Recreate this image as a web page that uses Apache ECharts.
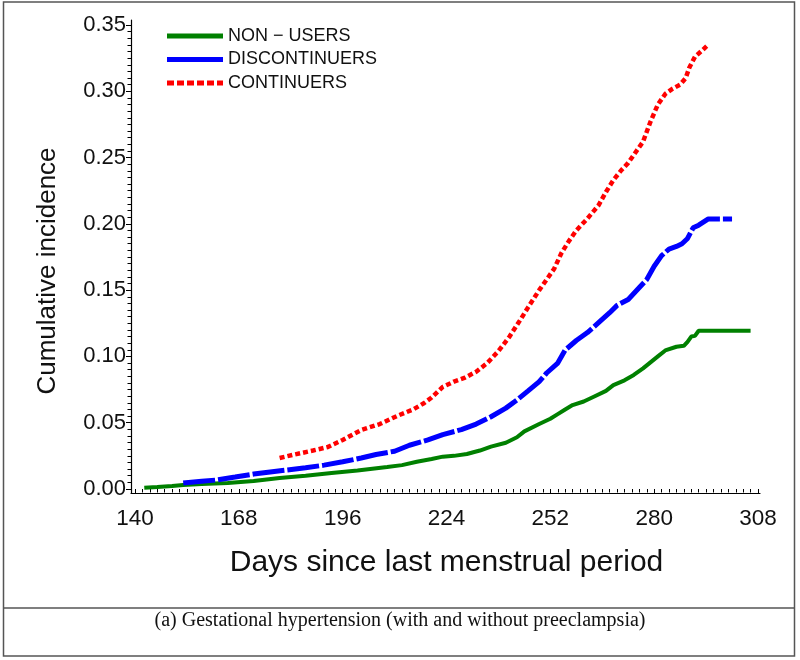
<!DOCTYPE html>
<html><head><meta charset="utf-8">
<script src="https://cdn.jsdelivr.net/npm/echarts@6/dist/echarts.min.js"></script>
<style>html,body{margin:0;padding:0;background:#fff}#c{width:800px;height:660px}</style>
</head><body><div id="c"></div><script>
const seriesNames = ['NON \u2212 USERS', 'DISCONTINUERS', 'CONTINUERS'];
const xTicks = [140, 168, 196, 224, 252, 280, 308];
const yTicks = [0.00, 0.05, 0.10, 0.15, 0.20, 0.25, 0.30, 0.35];
const xTitle = 'Days since last menstrual period';
const yTitle = 'Cumulative incidence';
const caption = '(a) Gestational hypertension (with and without preeclampsia)';

const daysNonUsers = [142.5,146,150,153,158,165,172,179,186,193,200,208,212,216,220,223,226,229.5,233,236,240,243,245,249,252,254,256,258,261,264,267,269,272,274.5,277,279,281,283,286,288,289,290,291,292,306];
const incNonUsers  = [0.001,0.0015,0.0022,0.003,0.0037,0.0045,0.006,0.0083,0.010,0.0121,0.014,0.0166,0.018,0.0205,0.0226,0.0244,0.025,0.0264,0.029,0.032,0.0349,0.039,0.0435,0.049,0.053,0.0565,0.060,0.0633,0.066,0.070,0.074,0.0784,0.082,0.086,0.091,0.0955,0.100,0.1045,0.1073,0.108,0.111,0.115,0.1155,0.1194,0.1194];

const daysDiscont = [153,158,162,167,172,177,181,186,191,196,201,205,210,214,219,223,228,232,236,240,243,246,249,251,254,256,259,262,265,268,270,273,276,278,280,282,284,286,287.5,289,290.5,292,294.5,301];
const incDiscont  = [0.0045,0.0058,0.0068,0.009,0.0113,0.013,0.0143,0.016,0.018,0.0205,0.0234,0.026,0.0285,0.033,0.037,0.041,0.0448,0.049,0.0545,0.061,0.0671,0.074,0.081,0.0875,0.095,0.1048,0.112,0.118,0.1255,0.133,0.1385,0.143,0.152,0.158,0.168,0.176,0.181,0.183,0.185,0.189,0.197,0.199,0.2036,0.2036];

const daysContin = [179,183,188,192,196,201,206,211,215,218,220,223,226,229,232,235,238,241,244,246,249,251,253,255,257,259,262,265,267,269,271,273,275,277,279,281,283,285,287,288.5,289.5,291,293,294.5];
const incContin  = [0.0234,0.026,0.029,0.0317,0.037,0.0445,0.049,0.0555,0.060,0.0649,0.069,0.077,0.081,0.084,0.0885,0.095,0.104,0.115,0.128,0.137,0.150,0.158,0.166,0.178,0.187,0.195,0.204,0.214,0.224,0.233,0.240,0.246,0.254,0.262,0.277,0.290,0.298,0.302,0.305,0.310,0.318,0.326,0.331,0.335];

const zip = (a, b) => a.map((d, i) => [d, b[i]]);
const FONT = "'Liberation Sans', Arial, sans-serif";
const dashedIcon = 'path://M0,0H7V5H0Z M10,0H17V5H10Z M20,0H27V5H20Z M30,0H37V5H30Z M40,0H47V5H40Z M50,0H56V5H50Z';

const chart = echarts.init(document.getElementById('c'), null, {renderer: 'canvas'});
chart.setOption({
  backgroundColor: '#ffffff',
  animation: false,
  grid: [
    {left: 135, right: 42, top: 25, bottom: 171},
    {left: 131, right: 40, top: 20, bottom: 167}
  ],
  legend: {
    orient: 'vertical', left: 162, top: 21,
    itemWidth: 56, itemHeight: 5, itemGap: 3.5,
    textStyle: {fontFamily: FONT, fontSize: 18, color: '#111', lineHeight: 20},
    data: [
      {name: seriesNames[0], icon: 'rect'},
      {name: seriesNames[1], icon: 'rect'},
      {name: seriesNames[2], icon: dashedIcon}
    ]
  },
  xAxis: [
    {
      type: 'value', gridIndex: 0, min: xTicks[0], max: xTicks[xTicks.length - 1], interval: xTicks[1] - xTicks[0],
      offset: 4,
      axisLine: {show: false},
      axisTick: {show: true, length: 5, lineStyle: {color: '#000', width: 1}},
      minorTick: {show: true, splitNumber: 14, length: 3.5, lineStyle: {color: '#000', width: 1}},
      splitLine: {show: false},
      axisLabel: {fontFamily: FONT, fontSize: 22.5, color: '#111', margin: 14},
      name: xTitle, nameLocation: 'middle', nameGap: 55,
      nameTextStyle: {fontFamily: FONT, fontSize: 30, color: '#111'}
    },
    {
      type: 'value', gridIndex: 1, min: 0, max: 1,
      axisLine: {show: true, lineStyle: {color: '#000', width: 1.2}},
      axisTick: {show: false}, axisLabel: {show: false}, splitLine: {show: false}
    }
  ],
  yAxis: [
    {
      type: 'value', gridIndex: 0, min: yTicks[0], max: yTicks[yTicks.length - 1], interval: 0.05,
      offset: 4,
      axisLine: {show: false},
      axisTick: {show: true, length: 5, lineStyle: {color: '#000', width: 1}},
      minorTick: {show: true, splitNumber: 10, length: 3.5, lineStyle: {color: '#000', width: 1}},
      splitLine: {show: false},
      axisLabel: {fontFamily: FONT, fontSize: 22, color: '#111', margin: 5, formatter: v => v.toFixed(2)}
    },
    {
      type: 'value', gridIndex: 1, min: 0, max: 1,
      axisLine: {show: true, lineStyle: {color: '#000', width: 1.2}},
      axisTick: {show: false}, axisLabel: {show: false}, splitLine: {show: false}
    }
  ],
  series: [
    {
      name: seriesNames[0], type: 'line', xAxisIndex: 0, yAxisIndex: 0, symbol: 'none',
      data: zip(daysNonUsers, incNonUsers),
      lineStyle: {color: '#008000', width: 4, type: 'solid'},
      itemStyle: {color: '#008000'}
    },
    {
      name: seriesNames[1], type: 'line', xAxisIndex: 0, yAxisIndex: 0, symbol: 'none',
      data: zip(daysDiscont, incDiscont),
      lineStyle: {color: '#0000ff', width: 5, type: [32, 3]},
      itemStyle: {color: '#0000ff'}
    },
    {
      name: seriesNames[2], type: 'line', xAxisIndex: 0, yAxisIndex: 0, symbol: 'none',
      data: zip(daysContin, incContin),
      lineStyle: {color: '#ff0000', width: 4.5, type: [5, 3], cap: 'butt'},
      itemStyle: {color: '#ff0000'}
    }
  ],
  graphic: [
    {type: 'rect', shape: {x: 3.5, y: 2, width: 791, height: 654}, style: {fill: 'none', stroke: '#555', lineWidth: 1.5}, silent: true},
    {type: 'line', shape: {x1: 3.5, y1: 608, x2: 794.5, y2: 608}, style: {stroke: '#555', lineWidth: 1.5}, silent: true},
    {type: 'text', x: 400, y: 621, style: {text: caption, fontFamily: "'Liberation Serif', 'Times New Roman', serif", fontSize: 20, fill: '#111', align: 'center', verticalAlign: 'middle'}, silent: true},
    {type: 'text', x: 48, y: 271, rotation: Math.PI / 2, style: {text: yTitle, fontFamily: FONT, fontSize: 26, fill: '#111', align: 'center', verticalAlign: 'middle'}, silent: true}
  ]
});
</script></body></html>
